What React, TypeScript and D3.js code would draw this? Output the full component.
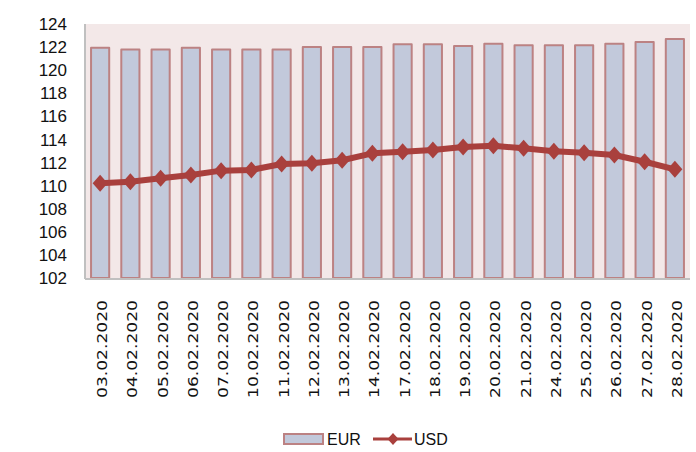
import React, { useEffect, useRef } from 'react';
import * as d3 from 'd3';

const dates = [
  '03.02.2020', '04.02.2020', '05.02.2020', '06.02.2020', '07.02.2020',
  '10.02.2020', '11.02.2020', '12.02.2020', '13.02.2020', '14.02.2020',
  '17.02.2020', '18.02.2020', '19.02.2020', '20.02.2020', '21.02.2020',
  '24.02.2020', '25.02.2020', '26.02.2020', '27.02.2020', '28.02.2020'
];

const eur = [
  121.95, 121.8, 121.8, 121.95, 121.8, 121.8, 121.8, 122.0, 122.0, 122.0,
  122.25, 122.25, 122.1, 122.3, 122.15, 122.15, 122.15, 122.3, 122.45, 122.7
];

const usd = [
  110.2, 110.34, 110.64, 110.92, 111.3, 111.36, 111.87, 111.93, 112.2, 112.8,
  112.94, 113.09, 113.35, 113.45, 113.23, 112.98, 112.85, 112.65, 112.07, 111.41
];

const yTicks = [102, 104, 106, 108, 110, 112, 114, 116, 118, 120, 122, 124];

const App = () => {
  const ref = useRef<SVGSVGElement>(null);

  useEffect(() => {
    const svg = d3.select(ref.current);
    svg.selectAll('*').remove();

    const left = 85, right = 690, top = 24, bottom = 278;

    const x = d3.scaleBand<string>()
      .domain(dates)
      .range([left, right])
      .paddingInner(0.4)
      .paddingOuter(0.2);

    const y = d3.scaleLinear().domain([102, 124]).range([bottom, top]);

    // fondo del area de trazado
    svg.append('rect')
      .attr('x', left).attr('y', top)
      .attr('width', right - left).attr('height', bottom - top)
      .attr('fill', '#f3e8e8');

    // barras EUR
    svg.selectAll('.bar')
      .data(eur)
      .enter().append('rect')
      .attr('class', 'bar')
      .attr('x', (d, i) => x(dates[i])!)
      .attr('width', x.bandwidth())
      .attr('y', d => y(d))
      .attr('height', d => y(102) - y(d))
      .attr('fill', '#c2c9db')
      .attr('stroke', '#bc8283')
      .attr('stroke-width', 2)
      .attr('stroke-linejoin', 'round');

    // ejes
    svg.append('line')
      .attr('x1', left).attr('x2', left).attr('y1', top).attr('y2', bottom + 1)
      .attr('stroke', '#c0c0c0').attr('stroke-width', 2);
    svg.append('line')
      .attr('x1', left).attr('x2', right).attr('y1', bottom + 1).attr('y2', bottom + 1)
      .attr('stroke', '#c0c0c0').attr('stroke-width', 2);

    // linea USD
    const cx = (i: number) => x(dates[i])! + x.bandwidth() / 2;
    const line = d3.line<number>().x((d, i) => cx(i)).y(d => y(d));
    svg.append('path')
      .datum(usd)
      .attr('d', line)
      .attr('fill', 'none')
      .attr('stroke', '#a9403d')
      .attr('stroke-width', 6)
      .attr('stroke-linejoin', 'round');

    const diamond = (w: number, h: number) => `M0,${-h}L${w},0L0,${h}L${-w},0Z`;
    svg.selectAll('.marker')
      .data(usd)
      .enter().append('path')
      .attr('class', 'marker')
      .attr('d', diamond(7.5, 8.5))
      .attr('transform', (d, i) => `translate(${cx(i)},${y(d)})`)
      .attr('fill', '#a9403d');

    // etiquetas eje Y
    svg.selectAll('.ytick')
      .data(yTicks)
      .enter().append('text')
      .attr('class', 'ytick')
      .attr('x', 67)
      .attr('y', d => y(d))
      .attr('dy', '0.36em')
      .attr('text-anchor', 'end')
      .attr('font-family', 'Liberation Sans Narrow, Liberation Sans, sans-serif')
      .attr('font-size', 17)
      .attr('fill', '#111')
      .text(d => d);

    // etiquetas eje X
    svg.selectAll('.xtick')
      .data(dates)
      .enter().append('text')
      .attr('class', 'xtick')
      .attr('transform', (d, i) => `translate(${cx(i) + 2},300) rotate(-90)`)
      .attr('text-anchor', 'end')
      .attr('dominant-baseline', 'central')
      .attr('font-family', 'DejaVu Sans, sans-serif')
      .attr('font-size', 14)
      .attr('textLength', 98)
      .attr('lengthAdjust', 'spacingAndGlyphs')
      .attr('fill', '#111')
      .text(d => d);

    // leyenda
    const lg = svg.append('g');
    lg.append('rect')
      .attr('x', 284).attr('y', 434).attr('width', 39).attr('height', 10)
      .attr('fill', '#c2c9db').attr('stroke', '#bc8283').attr('stroke-width', 2);
    lg.append('text')
      .attr('x', 327).attr('y', 439).attr('dy', '0.36em')
      .attr('font-family', 'Liberation Sans Narrow, Liberation Sans, sans-serif')
      .attr('font-size', 16).attr('fill', '#111')
      .text('EUR');
    lg.append('line')
      .attr('x1', 373).attr('x2', 412).attr('y1', 439).attr('y2', 439)
      .attr('stroke', '#a9403d').attr('stroke-width', 3);
    lg.append('path')
      .attr('d', diamond(5.5, 6))
      .attr('transform', 'translate(393,439)')
      .attr('fill', '#a9403d');
    lg.append('text')
      .attr('x', 414).attr('y', 439).attr('dy', '0.36em')
      .attr('font-family', 'Liberation Sans Narrow, Liberation Sans, sans-serif')
      .attr('font-size', 16).attr('fill', '#111')
      .text('USD');
  }, []);

  return (
    <svg ref={ref} width={696} height={452}
      style={{ position: 'absolute', left: 0, top: 0, background: '#fff' }} />
  );
};

export default App;
